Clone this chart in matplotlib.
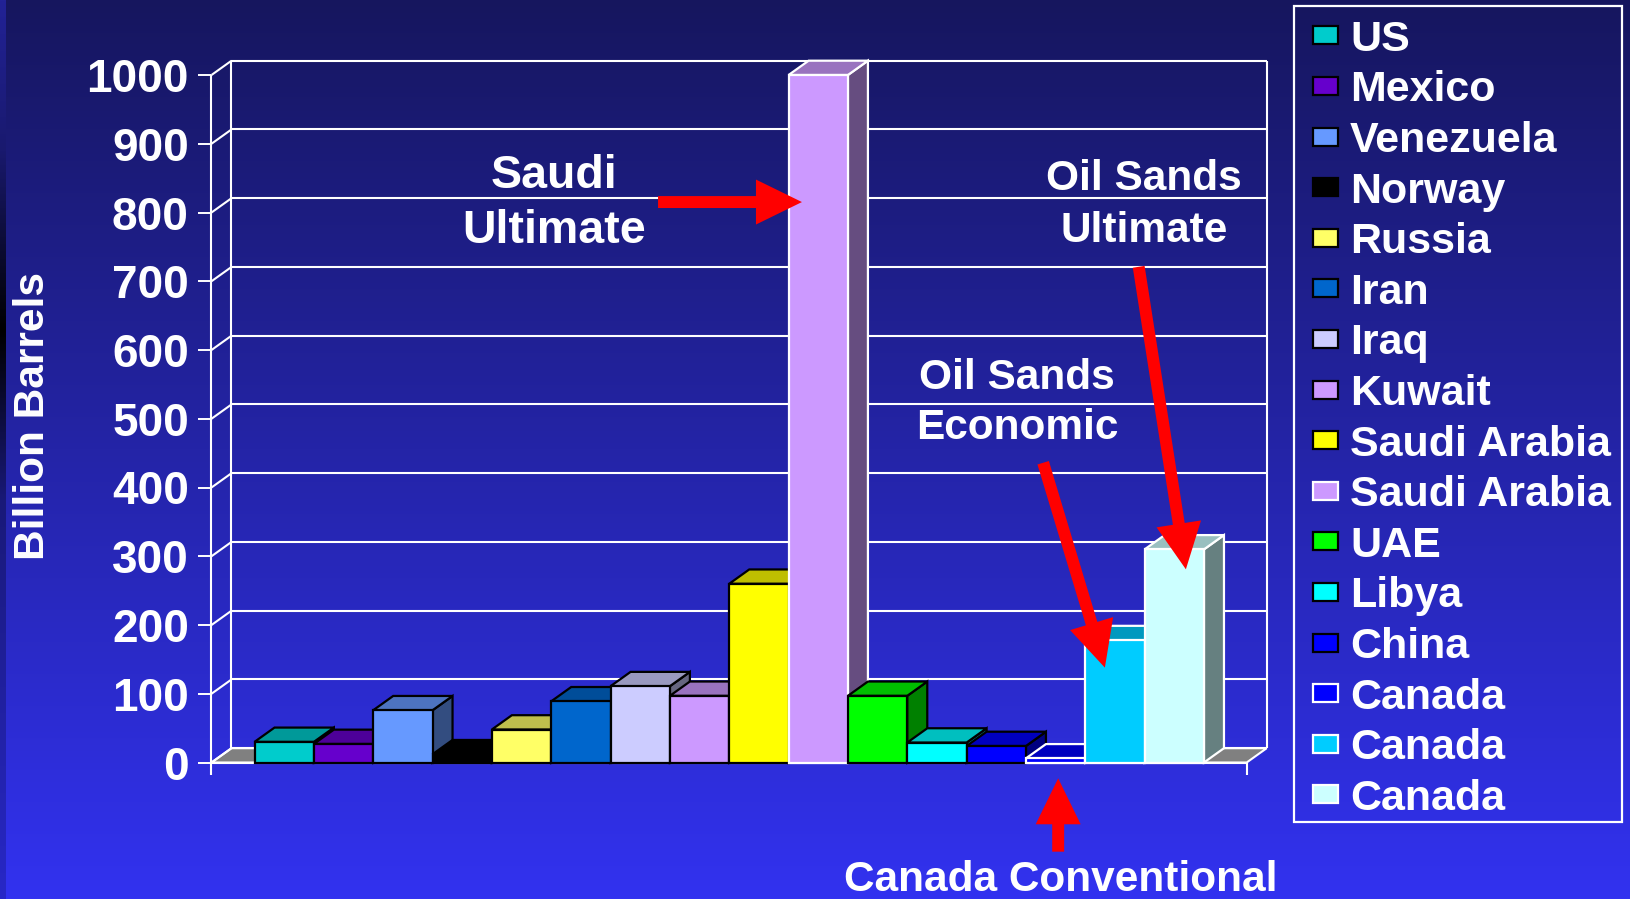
import numpy as np
import matplotlib
matplotlib.use("Agg")
import matplotlib.pyplot as plt
from matplotlib.patches import Polygon, Rectangle
from matplotlib.colors import to_rgb

plt.rcParams["font.family"] = ["Liberation Sans", "DejaVu Sans"]
plt.rcParams["font.weight"] = "bold"

# ---- data -------------------------------------------------------------
countries = ["US", "Mexico", "Venezuela", "Norway", "Russia", "Iran", "Iraq",
             "Kuwait", "Saudi Arabia", "Saudi Arabia", "UAE", "Libya", "China",
             "Canada", "Canada", "Canada"]
reserves = [30, 27, 76, 12, 48, 89, 111, 97, 260, 1000, 97, 29, 24, 6, 178, 310]
front_colors = ["#00CCCC", "#6600CC", "#6699FF", "#000000", "#FFFF66", "#0066CC",
                "#CCCCFF", "#CC99FF", "#FFFF00", "#CC99FF", "#00FF00", "#00FFFF",
                "#0000FF", "#0000FF", "#00CCFF", "#CCFFFF"]
edge_colors = ["black"] * 9 + ["white"] + ["black"] * 3 + ["white"] * 3
yticks = list(range(0, 1001, 100))
y_label = "Billion Barrels"

W, H = 1631, 899
fig = plt.figure(figsize=(W / 100, H / 100), dpi=100)

# ---- background gradient ---------------------------------------------
bg = fig.add_axes([0, 0, 1, 1], zorder=-10)
t = np.linspace(0, 1, H)
top = np.array([22, 22, 94]) / 255
bot = np.array([50, 50, 240]) / 255
col = top[None, :] + (bot - top)[None, :] * t[:, None]
img = np.repeat(col[:, None, :], W, axis=1)
# darker strip on the left edge
ys = np.array([0, 150, 330, 500, 899])
strip = np.array([[34, 34, 150], [25, 25, 110], [0, 0, 0], [25, 25, 120], [40, 40, 200]]) / 255
strip_col = np.stack([np.interp(np.arange(H), ys, strip[:, c]) for c in range(3)], axis=1)
img[:, :6, :] = strip_col[:, None, :]
bg.imshow(img, aspect="auto", extent=[0, 1, 0, 1], origin="upper")
bg.set_axis_off()

# ---- main axes -----------------------------------------------------------
X0, X1 = -0.725, 16.72      # front floor extent in bar units
DX, DY = 0.337, 20.8        # depth offset (bar units, value units)
ax = fig.add_axes([211.5 / W, 1 - 762.5 / H, (1246.7 - 211.5) / W, (762.5 - 75) / H])
ax.set_xlim(X0, X1)
ax.set_ylim(0, 1000)
ax.patch.set_alpha(0)
for s in ax.spines.values():
    s.set_visible(False)
ax.set_xticks([])
ax.set_yticks(yticks)
ax.set_yticklabels([str(v) for v in yticks])
ax.tick_params(axis="y", colors="white", length=9.1, width=1.4, pad=7.2, labelsize=33)
for lbl in ax.get_yticklabels():
    lbl.set_fontweight("bold")

LW = 1.5
grid_kw = dict(color="white", lw=LW, clip_on=False, zorder=1, solid_capstyle="butt")

# floor
ax.add_patch(Polygon([(X0, 0), (X1, 0), (X1 + DX, DY), (X0 + DX, DY)], closed=True,
                     facecolor="#808080", edgecolor="white", lw=LW, clip_on=False, zorder=0.5))
# back wall and side wall grid
for v in yticks:
    ax.plot([X0 + DX, X1 + DX], [v + DY, v + DY], **grid_kw)
    ax.plot([X0, X0 + DX], [v, v + DY], **grid_kw)
ax.plot([X0 + DX, X0 + DX], [DY, 1000 + DY], **grid_kw)
ax.plot([X1 + DX, X1 + DX], [DY, 1000 + DY], **grid_kw)
ax.plot([X0, X0], [-18, 1000], **grid_kw)
ax.plot([X1, X1], [-18, 0], **grid_kw)
ax.plot([X0, X1], [0, 0], **grid_kw)


def shade(c, f):
    r, g, b = to_rgb(c)
    return (r * f, g * f, b * f)


# 3D bars, painted left to right
for i, (v, fc, ec) in enumerate(zip(reserves, front_colors, edge_colors)):
    z = 2 + i * 0.01
    kw = dict(closed=True, edgecolor=ec, lw=1.6, joinstyle="miter", clip_on=False, zorder=z)
    ax.add_patch(Polygon([(i + 1, 0), (i + 1 + DX, DY), (i + 1 + DX, v + DY), (i + 1, v)],
                         facecolor=shade(fc, 0.5), **kw))
    ax.add_patch(Polygon([(i, v), (i + 1, v), (i + 1 + DX, v + DY), (i + DX, v + DY)],
                         facecolor=shade(fc, 0.75), **kw))
    ax.add_patch(Polygon([(i, 0), (i + 1, 0), (i + 1, v), (i, v)],
                         facecolor=fc, **kw))

# ---- arrows -------------------------------------------------------------
arrow_kw = dict(arrowstyle="simple,head_length=3.31,head_width=3.24,tail_width=0.86",
                mutation_scale=10, color="red", shrinkA=0, shrinkB=0, lw=0)
arrows = [((6.80, 815.2), (9.225, 815.2)),
          ((14.90, 721.0), (15.695, 281.0)),
          ((13.29, 436.0), (14.33, 138.0)),
          ((13.543, -129.7), (13.543, -23.0))]
for tail, tip in arrows:
    ax.annotate("", xy=tip, xytext=tail, xycoords="data", textcoords="data",
                arrowprops=arrow_kw, annotation_clip=False, zorder=10)

# ---- annotation text --------------------------------------------------
def ftext(x, y, s, size=30.5, **kw):
    fig.text(x / W, 1 - y / H, s, ha="center", va="baseline", color="white",
             fontsize=size, fontweight="bold", **kw)


ftext(554, 188, "Saudi", size=33.5)
ftext(554, 243, "Ultimate", size=33.5)
ftext(1144, 190, "Oil Sands")
ftext(1144, 242, "Ultimate")
ftext(1017, 389, "Oil Sands")
ftext(1017, 439, "Economic")
ftext(1061, 891, "Canada Conventional")

fig.text(33 / W, 1 - 416 / H, y_label, rotation=90, ha="center", va="center",
         color="white", fontsize=30.5, fontweight="bold")

# ---- legend -------------------------------------------------------------
fig.patches.append(Rectangle((1294 / W, 1 - 822 / H), (1622 - 1294) / W, (822 - 6) / H,
                             transform=fig.transFigure, fill=False, edgecolor="white",
                             lw=1.6, zorder=5))
for i, (name, fc, ec) in enumerate(zip(countries, front_colors, edge_colors)):
    cy = 35.4 + 50.6 * i
    fig.patches.append(Rectangle((1313 / W, 1 - (cy + 9) / H), 25 / W, 18 / H,
                                 transform=fig.transFigure, facecolor=fc, edgecolor=ec,
                                 lw=1.6, zorder=6))
    fig.text(1350 / W, 1 - (cy + 15.4) / H, name, ha="left", va="baseline",
             color="white", fontsize=31, fontweight="bold")

fig.savefig("out.png", dpi=100)
